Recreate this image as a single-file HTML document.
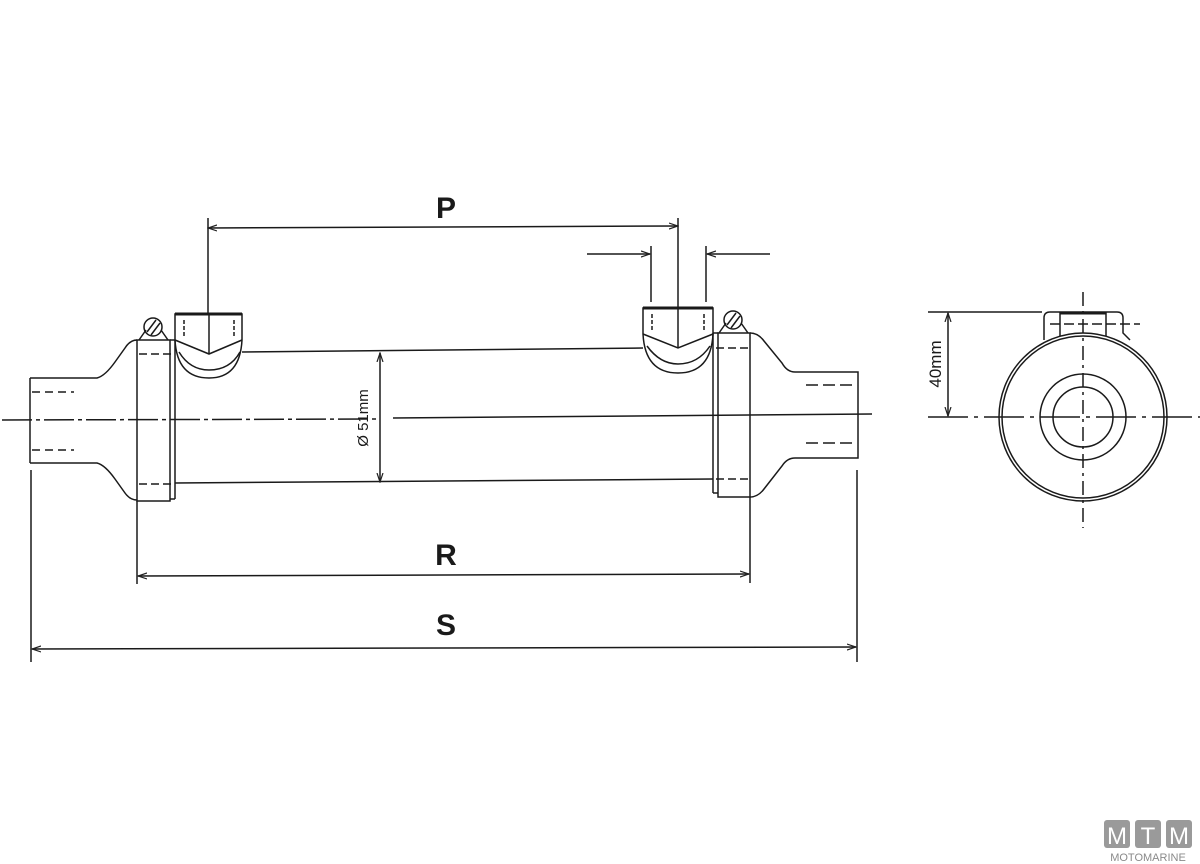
<!DOCTYPE html>
<html><head><meta charset="utf-8"><style>html,body{margin:0;padding:0;background:#fff}svg{display:block}</style></head><body>
<svg width="1200" height="864" viewBox="0 0 1200 864" xmlns="http://www.w3.org/2000/svg" font-family="Liberation Sans, sans-serif">
<defs>
<marker id="a" markerWidth="10" markerHeight="8" refX="9" refY="4" orient="auto-start-reverse" markerUnits="userSpaceOnUse"><path d="M0,1 L9,4 L0,7" fill="none" stroke="#222" stroke-width="1.2"/></marker>
</defs>
<g fill="none" stroke="#1a1a1a" stroke-width="1.5">
<line x1="2" y1="420" x2="380" y2="419" stroke-dasharray="30 4 4 4" />
<line x1="393" y1="418" x2="872" y2="414"/>
<line x1="242" y1="352" x2="643" y2="348"/>
<line x1="175" y1="483" x2="713" y2="479"/>
<path d="M30,378 H97 Q105,376 115,362 L125,348 Q130,340 137,340"/>
<path d="M30,463 H97 Q105,465 115,479 L125,493 Q130,500 137,500"/>
<line x1="30" y1="378" x2="30" y2="463"/>
<line x1="32" y1="392" x2="74" y2="392" stroke-dasharray="8 5"/>
<line x1="32" y1="450" x2="74" y2="450" stroke-dasharray="8 5"/>
<rect x="137" y="340" width="33" height="161"/>
<line x1="170" y1="340" x2="175" y2="340"/><line x1="175" y1="340" x2="175" y2="499"/><line x1="170" y1="499" x2="175" y2="499"/>
<line x1="139" y1="354" x2="173" y2="354" stroke-dasharray="8 4"/>
<line x1="139" y1="484" x2="173" y2="484" stroke-dasharray="8 4"/>
<!-- left bolt -->
<path d="M139,340 L146,330"/><path d="M168,340 L161,330"/>
<circle cx="153" cy="327" r="9"/>
<line x1="147" y1="332" x2="156" y2="320"/><line x1="151" y1="335" x2="160" y2="323"/>
<path d="M175,340 V314 H242 V340"/>
<line x1="175" y1="314" x2="242" y2="314" stroke-width="3"/>
<path d="M175,340 L209,354 L242,340"/>
<line x1="209" y1="314" x2="209" y2="354"/>
<path d="M175,340 Q177,378 209,378 Q240,378 242,340"/>
<path d="M179,352 Q190,370 209,370 Q230,370 240,352"/>
<line x1="184" y1="320" x2="184" y2="336" stroke-dasharray="4 2"/><line x1="234" y1="320" x2="234" y2="336" stroke-dasharray="4 2"/>
<path d="M643,334 V308 H713 V334"/>
<line x1="643" y1="308" x2="713" y2="308" stroke-width="3"/>
<path d="M643,334 L678,348 L713,334"/>
<line x1="678" y1="308" x2="678" y2="348"/>
<path d="M643,334 Q645,373 678,373 Q711,373 713,334"/>
<path d="M647,346 Q660,364 678,364 Q698,364 710,346"/>
<line x1="652" y1="314" x2="652" y2="330" stroke-dasharray="4 2"/><line x1="704" y1="314" x2="704" y2="330" stroke-dasharray="4 2"/>
<rect x="718" y="333" width="32" height="164"/>
<line x1="713" y1="333" x2="718" y2="333"/><line x1="713" y1="333" x2="713" y2="493"/><line x1="713" y1="493" x2="718" y2="493"/>
<line x1="716" y1="348" x2="748" y2="348" stroke-dasharray="8 4"/>
<line x1="716" y1="479" x2="748" y2="479" stroke-dasharray="8 4"/>
<!-- right bolt -->
<path d="M719,333 L726,323"/><path d="M748,333 L741,323"/>
<circle cx="733" cy="320" r="9"/>
<line x1="727" y1="325" x2="736" y2="313"/><line x1="731" y1="328" x2="740" y2="316"/>
<path d="M750,333 Q758,333 764,341 L782,363 Q787,372 795,372 H858 V458 H795 Q787,458 782,466 L764,489 Q758,497 750,497"/>
<line x1="806" y1="385" x2="856" y2="385" stroke-dasharray="12 5"/>
<line x1="806" y1="443" x2="856" y2="443" stroke-dasharray="12 5"/>
<line x1="208" y1="218" x2="208" y2="314"/>
<line x1="678" y1="218" x2="678" y2="308"/>
<line x1="208" y1="228" x2="678" y2="226" marker-start="url(#a)" marker-end="url(#a)"/>
<line x1="651" y1="246" x2="651" y2="302"/><line x1="706" y1="246" x2="706" y2="302"/>
<line x1="587" y1="254" x2="650" y2="254" marker-end="url(#a)"/>
<line x1="770" y1="254" x2="707" y2="254" marker-end="url(#a)"/>
<line x1="380" y1="353" x2="380" y2="482" marker-start="url(#a)" marker-end="url(#a)"/>
<line x1="137" y1="501" x2="137" y2="584"/><line x1="750" y1="497" x2="750" y2="583"/>
<line x1="138" y1="576" x2="749" y2="574" marker-start="url(#a)" marker-end="url(#a)"/>
<line x1="31" y1="470" x2="31" y2="662"/><line x1="857" y1="470" x2="857" y2="662"/>
<line x1="32" y1="649" x2="856" y2="647" marker-start="url(#a)" marker-end="url(#a)"/>
<circle cx="1083" cy="417" r="84"/>
<circle cx="1083" cy="417" r="81"/>
<circle cx="1083" cy="417" r="43"/>
<circle cx="1083" cy="417" r="30"/>
<path d="M1044,340 V318 Q1044,312 1050,312 H1117 Q1123,312 1123,318 V333 L1130,340"/>
<line x1="1060" y1="312" x2="1060" y2="336"/><line x1="1106" y1="312" x2="1106" y2="336"/>
<line x1="1060" y1="313" x2="1106" y2="313" stroke-width="3"/>
<line x1="1050" y1="324" x2="1140" y2="324" stroke-dasharray="10 4"/>
<line x1="1083" y1="292" x2="1083" y2="528" stroke-dasharray="14 5 3 5"/>
<line x1="928" y1="417" x2="1200" y2="417" stroke-dasharray="40 6 4 6"/>
<line x1="928" y1="312" x2="1042" y2="312"/>
<line x1="948" y1="313" x2="948" y2="416" marker-start="url(#a)" marker-end="url(#a)"/>
</g>
<g fill="#1a1a1a" font-weight="bold" font-size="30" text-anchor="middle">
<text x="446" y="218">P</text>
<text x="446" y="565">R</text>
<text x="446" y="635">S</text>
</g>
<text transform="translate(368,418) rotate(-90)" font-size="15" text-anchor="middle" fill="#1a1a1a">Ø 51mm</text>
<text transform="translate(941,364) rotate(-90)" font-size="17" text-anchor="middle" fill="#1a1a1a">40mm</text>
<g fill="#9a9a9a">
<rect x="1104" y="820" width="26" height="28" rx="3"/><rect x="1135" y="820" width="26" height="28" rx="3"/><rect x="1166" y="820" width="26" height="28" rx="3"/>
</g>
<g fill="#fff" font-size="24" text-anchor="middle"><text x="1117" y="844">M</text><text x="1148" y="844">T</text><text x="1179" y="844">M</text></g>
<text x="1148" y="861" font-size="11" text-anchor="middle" fill="#8a8a8a">MOTOMARINE</text>
</svg>
</body></html>
